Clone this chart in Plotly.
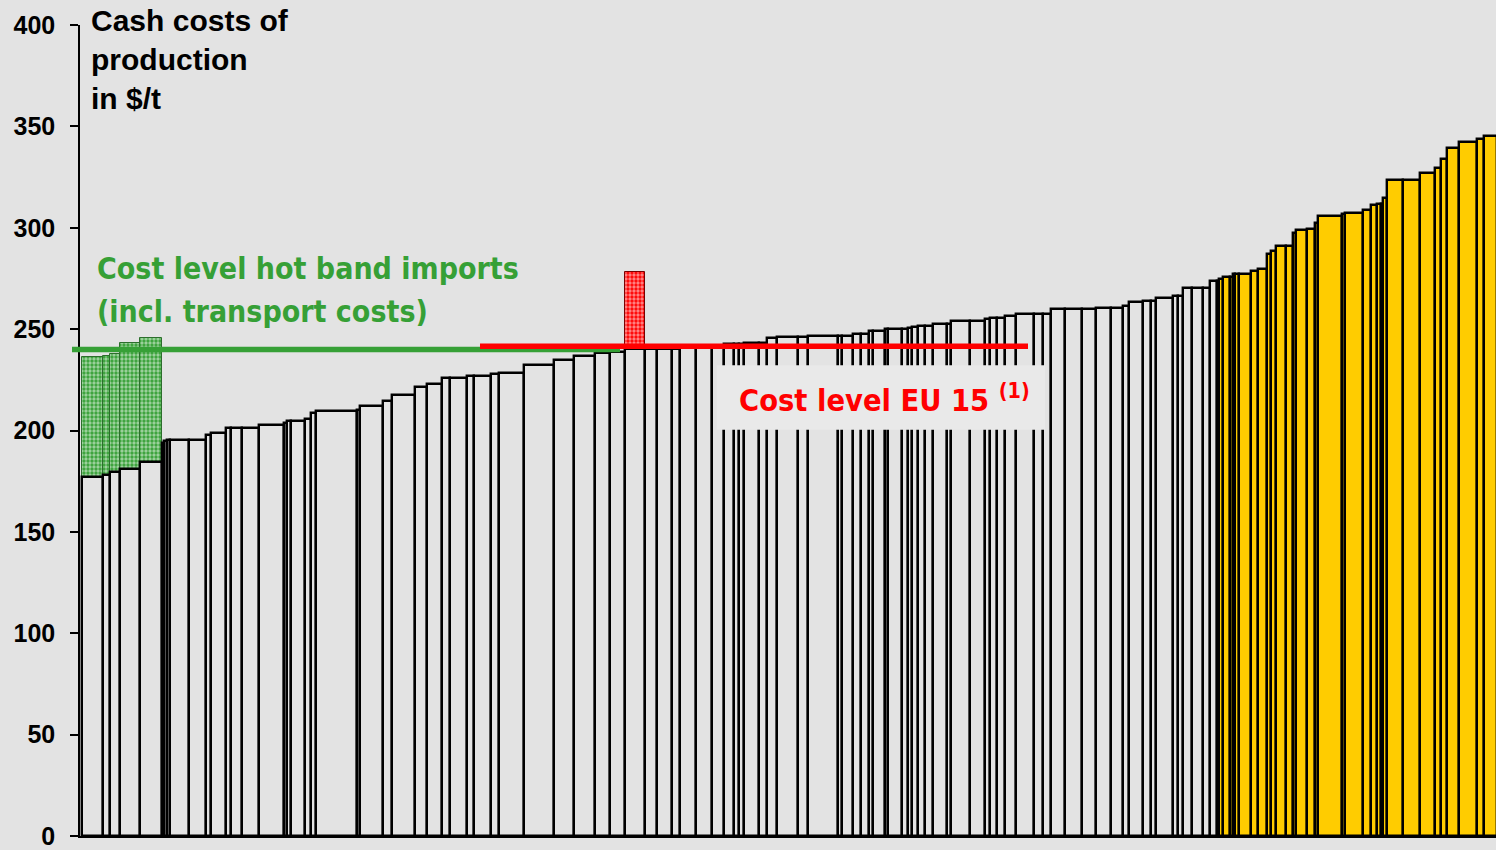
import numpy as np
import plotly.graph_objects as go

# Capacity of each plant (arbitrary capacity units) and its cash cost in $/t, sorted by cost
capacity = [21.6, 6.7, 10, 20, 21.7, 2.6, 2.4, 3.3, 19, 16.7,
            5, 15, 5.3, 11.3, 16.7, 25, 3.3, 3.4, 14, 6.3,
            5, 40.7, 3.3, 22.5, 9.2, 23.3, 11.8, 15, 8.5, 16.7,
            7, 16.5, 8.2, 25.5, 30, 20, 20.5, 15.3, 15, 20.2,
            11.8, 15, 8, 15.5, 16.5, 11.5, 10.2, 5.3, 4.5, 15.5,
            8, 10, 20.5, 10, 30.8, 3.4, 10.8, 8.5, 8.3, 3.5,
            12.2, 3.3, 13.4, 6.6, 3.4, 6.6, 6.7, 8.3, 14, 3.4,
            19.3, 15, 5, 6.7, 8.3, 10.7, 18.1, 8.7, 8.2, 14,
            17.6, 13.7, 15, 11.7, 6.6, 13.7, 8, 5.3, 16.7, 5.3,
            4.7, 8.7, 11.6, 6.2, 7,
            2.5, 3.5, 7.5, 2.7, 2.3, 4.3, 11.4, 7.6, 8.4, 4,
            5, 10, 7, 3.3, 11.3, 7.7, 3.3, 23.4, 3.3, 17.7,
            8, 6.6, 3.4, 2, 3.8, 16.2, 17.3, 15, 5.7, 6,
            12.6, 17.4, 7.3, 13]
cash_cost = [177.2, 178.2, 179.4, 181.0, 184.7, 193.9, 194.9, 195.4, 195.5, 195.5,
             197.8, 198.9, 201.4, 201.4, 201.4, 202.8, 203.7, 204.7, 204.7, 205.5,
             208.7, 209.6, 210.3, 212.0, 214.6, 217.6, 221.7, 222.7, 225.9, 225.9,
             226.7, 226.7, 227.7, 228.5, 232.5, 235.0, 236.8, 238.2, 238.5, 240.0,
             240.2, 240.2, 240.4, 240.8, 241.2, 241.8, 242.9, 242.9, 242.9, 243.4,
             243.4, 245.5, 246.2, 246.2, 246.7, 246.7, 246.7, 247.5, 247.5, 249.3,
             249.3, 250.0, 250.0, 250.0, 250.8, 251.1, 251.6, 251.6, 252.5, 252.5,
             254.1, 254.1, 254.9, 255.7, 255.7, 256.5, 257.4, 257.4, 257.4, 259.8,
             259.8, 259.8, 260.6, 260.6, 261.5, 263.4, 263.9, 263.9, 265.5, 266.3,
             266.3, 270.4, 270.4, 270.4, 273.5,
             273.7, 274.6, 275.7, 275.7, 277.1, 277.1, 277.1, 278.7, 279.5, 286.9,
             288.6, 291.1, 291.1, 297.6, 298.7, 299.2, 302.5, 305.8, 306.6, 307.4,
             308.6, 311.0, 311.8, 311.8, 314.8, 323.8, 323.8, 326.8, 329.6, 334.1,
             339.5, 342.3, 343.9, 345.5]
n_standard = 95          # plants in the lower part of the curve
n_high_cost = 34         # high-cost plants (highlighted)

# Landed cost of hot band imports (incl. transport) for the first five exporters
import_cost = [236.4, 236.8, 237.5, 243.0, 245.4]
# Outlier plant and its upper cost
outlier_index = 39
outlier_cost = 278.4

hot_band_level = 240.0
eu15_level = 241.6

y_ticks = [0, 50, 100, 150, 200, 250, 300, 350, 400]

# ---------------------------------------------------------------
cap = np.array(capacity, dtype=float)
cost = np.array(cash_cost, dtype=float)
edges = np.concatenate([[0.0], np.cumsum(cap)])
centers = edges[:-1] + cap / 2

BG = "#e3e3e3"
GREEN = "#36a036"
RED = "#ff0000"
YELLOW = "#ffcc00"

fill = [BG] * n_standard + [YELLOW] * n_high_cost

fig = go.Figure()

# import-cost overlays (hatched green)
ni = len(import_cost)
fig.add_trace(go.Bar(
    x=centers[:ni], width=cap[:ni],
    base=cost[:ni], y=np.array(import_cost) - cost[:ni],
    marker=dict(color=GREEN, line=dict(color="#2c6e2c", width=1),
                pattern=dict(shape=".", fgcolor="white", bgcolor=GREEN, size=4, solidity=0.55)),
    hoverinfo="skip", showlegend=False))

# outlier overlay (hatched red)
fig.add_trace(go.Bar(
    x=[centers[outlier_index]], width=[cap[outlier_index]],
    base=[cost[outlier_index]], y=[outlier_cost - cost[outlier_index]],
    marker=dict(color=RED, line=dict(color="#7a0000", width=1),
                pattern=dict(shape=".", fgcolor="white", bgcolor=RED, size=4, solidity=0.55)),
    hoverinfo="skip", showlegend=False))

# cost curve
fig.add_trace(go.Bar(
    x=centers, width=cap, y=cost,
    marker=dict(color=fill, line=dict(color="black", width=2.4)),
    showlegend=False))

x_lo, x_hi = -1.7, 1414.3

def px2paper(v):
    return (v - x_lo) / (x_hi - x_lo)

# level lines
fig.add_shape(type="line", xref="paper", yref="y",
              x0=-8 / 1416, x1=px2paper(538.3), y0=hot_band_level, y1=hot_band_level,
              line=dict(color=GREEN, width=5.5), layer="above")
fig.add_shape(type="line", xref="x", yref="y",
              x0=398.3, x1=946.3, y0=eu15_level, y1=eu15_level,
              line=dict(color=RED, width=5.5), layer="above")

# EU15 label box
fig.add_shape(type="rect", xref="x", yref="y", x0=635, x1=963.3, y0=200.4, y1=232.2,
              fillcolor="#e9e9e9", line=dict(width=0), layer="above")

COND = "DejaVu Sans Condensed, Liberation Sans Narrow, sans-serif"
fig.add_annotation(xref="x", yref="y", x=655, y=216.0, xanchor="left", yanchor="middle",
                   text="Cost level EU 15 <sup>(1)</sup>", showarrow=False,
                   font=dict(family=COND, size=30.5, color=RED, weight="bold"))

fig.add_annotation(xref="x", yref="y", x=13.5, y=280.0, xanchor="left", yanchor="middle",
                   text="Cost level hot band imports", showarrow=False,
                   font=dict(family=COND, size=30, color=GREEN, weight="bold"))
fig.add_annotation(xref="x", yref="y", x=13.5, y=258.5, xanchor="left", yanchor="middle",
                   text="(incl. transport costs)", showarrow=False,
                   font=dict(family=COND, size=30, color=GREEN, weight="bold"))

fig.add_annotation(xref="paper", yref="paper", x=0.0065, y=1.028, xanchor="left", yanchor="top",
                   text="Cash costs of<br>production<br>in $/t", showarrow=False, align="left",
                   font=dict(family="Liberation Sans, Arial, sans-serif", size=30, color="black",
                             weight="bold"))

fig.update_layout(
    width=1496, height=850,
    margin=dict(l=80, r=0, t=25, b=12),
    paper_bgcolor=BG, plot_bgcolor=BG,
    barmode="overlay", bargap=0,
    xaxis=dict(range=[x_lo, x_hi], showgrid=False, zeroline=False, showticklabels=False,
               ticks="", showline=True, linecolor="black", linewidth=2),
    yaxis=dict(range=[0, 400], tickvals=y_ticks, showgrid=False, zeroline=False,
               ticks="outside", ticklen=8, tickwidth=1.5, tickcolor="black",
               showline=True, linecolor="black", linewidth=1.5,
               ticklabelstandoff=10, ticklabeloverflow="allow",
               tickfont=dict(family="Liberation Sans, Arial, sans-serif", size=25,
                             color="black", weight="bold")),
)

fig.write_html("out.html")
